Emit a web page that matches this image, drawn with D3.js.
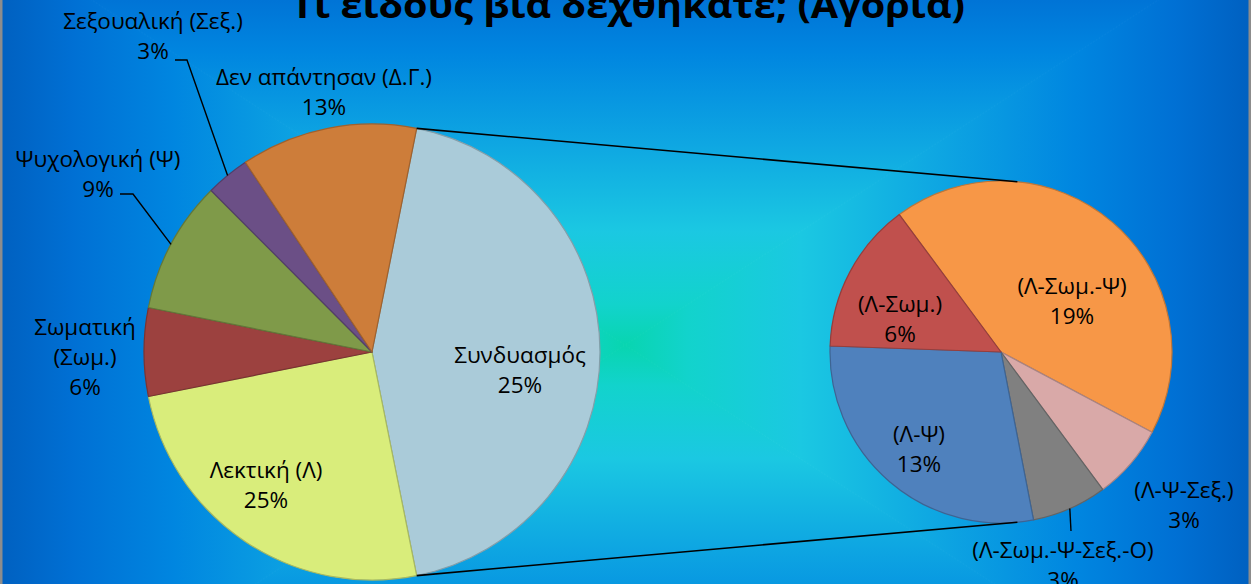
<!DOCTYPE html>
<html>
<head>
<meta charset="utf-8">
<script src="https://cdn.jsdelivr.net/npm/d3@7"></script>
<style>
  html, body { margin: 0; padding: 0; overflow: hidden; background: #fff; }
  text { font-family: "Open Sans", "Noto Sans", sans-serif; fill: #000; }
</style>
</head>
<body>
<script>
// Main pie: the categories that follow the "combination" slice, clockwise
const mainNames = [["Λεκτική (Λ)"], ["Σωματική", "(Σωμ.)"], ["Ψυχολογική (Ψ)"], ["Σεξουαλική (Σεξ.)"], ["Δεν απάντησαν (Δ.Γ.)"]];
const mainValues = [25, 6.25, 9.4, 3.1, 12.5];
const mainLabels = ["25%", "6%", "9%", "3%", "13%"];

// The slice that is split into the second pie
const otherName = ["Συνδυασμός"];
const otherLabel = "25%";

// Second pie (breakdown of "Συνδυασμός")
const subNames = ["(Λ-Σωμ.-Ψ)", "(Λ-Ψ-Σεξ.)", "(Λ-Σωμ.-Ψ-Σεξ.-Ο)", "(Λ-Ψ)", "(Λ-Σωμ.)"];
const subValues = [18.75, 3.1, 3.1, 12.5, 6.25];
const subLabels = ["19%", "3%", "3%", "13%", "6%"];

const title = "Τι είδους βία δεχθήκατε; (Αγόρια)";

// colours
const mainColors = ["#d9ed7b", "#9c413f", "#7f9a49", "#6b4f86", "#cd7d3a"];
const otherColor = "#aacbd9";
const subColors = ["#f79747", "#d9a9a8", "#808080", "#4f81bd", "#c0504d"];

// layout: label anchors are offsets (text centre, first baseline) from each pie centre
const mainLabelPos = [[-106, 126], [-287, -17], [-274, -185], [-219, -323], [-48, -267]];
const otherLabelPos = [148, 11];
const subLabelPos = [[71, -58], [183, 146], [62, 206], [-82, 90], [-101, -40]];
// leader lines: [elbow, end] offsets from pie centre
const mainLeaders = { 2: [[-239, -158], [-252, -158]], 3: [[-185, -292], [-197, -292]] };
const subLeaders = { 2: [[70, 179], [70, 179]] };

const width = 1251, height = 584;
const mainC = [372, 352], mainR = 228;
const subC = [1001, 352], subR = 171;
const lineH = 30;
const labelSize = 22.5;

const svg = d3.select("body").append("svg")
  .attr("width", width)
  .attr("height", height);

const defs = svg.append("defs");

// Background: rectangular "path" gradient built from four triangles
const bgStops = [[0, "#08d5b0"], [0.1, "#12d3cc"], [0.28, "#1bc8e2"], [0.5, "#0ea6e2"], [0.72, "#0086e0"], [0.88, "#0070d4"], [1, "#0060c0"]];
const gc = [625, 345], gw = 626, gh = 405;
const TL = [gc[0] - gw, gc[1] - gh], TR = [gc[0] + gw, gc[1] - gh];
const BR = [gc[0] + gw, gc[1] + gh], BL = [gc[0] - gw, gc[1] + gh];
const sides = [
  { id: "bgL", a: TL, b: BL, to: [gc[0] - gw, gc[1]] },
  { id: "bgR", a: TR, b: BR, to: [gc[0] + gw, gc[1]] },
  { id: "bgT", a: TL, b: TR, to: [gc[0], gc[1] - gh] },
  { id: "bgB", a: BL, b: BR, to: [gc[0], gc[1] + gh] }
];
sides.forEach((s) => {
  const g = defs.append("linearGradient")
    .attr("id", s.id)
    .attr("gradientUnits", "userSpaceOnUse")
    .attr("x1", gc[0]).attr("y1", gc[1])
    .attr("x2", s.to[0]).attr("y2", s.to[1]);
  g.selectAll("stop").data(bgStops).enter().append("stop")
    .attr("offset", (d) => d[0])
    .attr("stop-color", (d) => d[1]);
  svg.append("path")
    .attr("d", "M" + gc + "L" + s.a + "L" + s.b + "Z")
    .attr("fill", "url(#" + s.id + ")")
    .attr("stroke", "url(#" + s.id + ")")
    .attr("stroke-width", 1);
});

// grey chart frame
svg.append("rect")
  .attr("x", 1).attr("y", -20)
  .attr("width", width - 2).attr("height", height + 40)
  .attr("fill", "none")
  .attr("stroke", "#8c8c8c")
  .attr("stroke-width", 3);

// title (top is cut off in the original)
svg.append("text")
  .attr("x", 628)
  .attr("y", 18)
  .attr("text-anchor", "middle")
  .attr("font-size", 35)
  .attr("font-weight", "bold")
  .attr("textLength", 674)
  .attr("lengthAdjust", "spacingAndGlyphs")
  .text(title);

// data for both pies
const subTotal = d3.sum(subValues);
const total = subTotal + d3.sum(mainValues);

const mainData = [{ name: otherName, value: subTotal, label: otherLabel, color: otherColor, pos: otherLabelPos }]
  .concat(mainNames.map((n, i) => ({
    name: n, value: mainValues[i], label: mainLabels[i], color: mainColors[i], pos: mainLabelPos[i], leader: mainLeaders[i]
  })));

const subData = subNames.map((n, i) => ({
  name: [n], value: subValues[i], label: subLabels[i], color: subColors[i], pos: subLabelPos[i], leader: subLeaders[i]
}));

// the combination slice is centred on the right, pointing at the second pie
const mainStart = Math.PI / 2 - (subTotal / total) * Math.PI;
const mainPie = d3.pie().sort(null).value((d) => d.value)
  .startAngle(mainStart).endAngle(mainStart + 2 * Math.PI);
const subStart = -36.5 * Math.PI / 180;
const subPie = d3.pie().sort(null).value((d) => d.value)
  .startAngle(subStart).endAngle(subStart + 2 * Math.PI);

const polar = (c, r, a) => [c[0] + r * Math.sin(a), c[1] - r * Math.cos(a)];

function drawPie(arcs, c, r) {
  const arc = d3.arc().innerRadius(0).outerRadius(r);
  const g = svg.append("g").attr("transform", "translate(" + c + ")");
  g.selectAll("path")
    .data(arcs)
    .enter()
    .append("path")
    .attr("d", arc)
    .attr("fill", (d) => d.data.color)
    .attr("stroke", (d) => d3.color(d.data.color).darker(0.7))
    .attr("stroke-width", 1.2)
    .attr("stroke-linejoin", "round");

  // leader lines
  arcs.filter((d) => d.data.leader).forEach((d) => {
    const mid = (d.startAngle + d.endAngle) / 2;
    const p0 = polar([0, 0], r, mid);
    const pts = [p0].concat(d.data.leader);
    g.append("path")
      .attr("d", d3.line()(pts))
      .attr("fill", "none")
      .attr("stroke", "#000")
      .attr("stroke-width", 1.4);
  });

  // labels: category name lines, then percentage
  const t = g.selectAll("text.lbl")
    .data(arcs)
    .enter()
    .append("text")
    .attr("class", "lbl")
    .attr("text-anchor", "middle")
    .attr("font-size", labelSize);
  t.each(function (d) {
    const lines = d.data.name.concat([d.data.label]);
    d3.select(this).selectAll("tspan")
      .data(lines)
      .enter()
      .append("tspan")
      .attr("x", d.data.pos[0])
      .attr("y", (l, i) => d.data.pos[1] + i * lineH)
      .text((l) => l);
  });
}

const mainArcs = mainPie(mainData);
const subArcs = subPie(subData);

// connector lines from the combination slice edges to the second pie
const other = mainArcs[0];
const connectors = [
  [polar(mainC, mainR, other.startAngle), polar(subC, subR, 5.5 * Math.PI / 180)],
  [polar(mainC, mainR, other.endAngle), polar(subC, subR, 174.5 * Math.PI / 180)]
];

drawPie(mainArcs, mainC, mainR);
drawPie(subArcs, subC, subR);

svg.selectAll("line.conn")
  .data(connectors)
  .enter()
  .append("line")
  .attr("class", "conn")
  .attr("x1", (d) => d[0][0]).attr("y1", (d) => d[0][1])
  .attr("x2", (d) => d[1][0]).attr("y2", (d) => d[1][1])
  .attr("stroke", "#000")
  .attr("stroke-width", 1.6);
</script>
</body>
</html>
